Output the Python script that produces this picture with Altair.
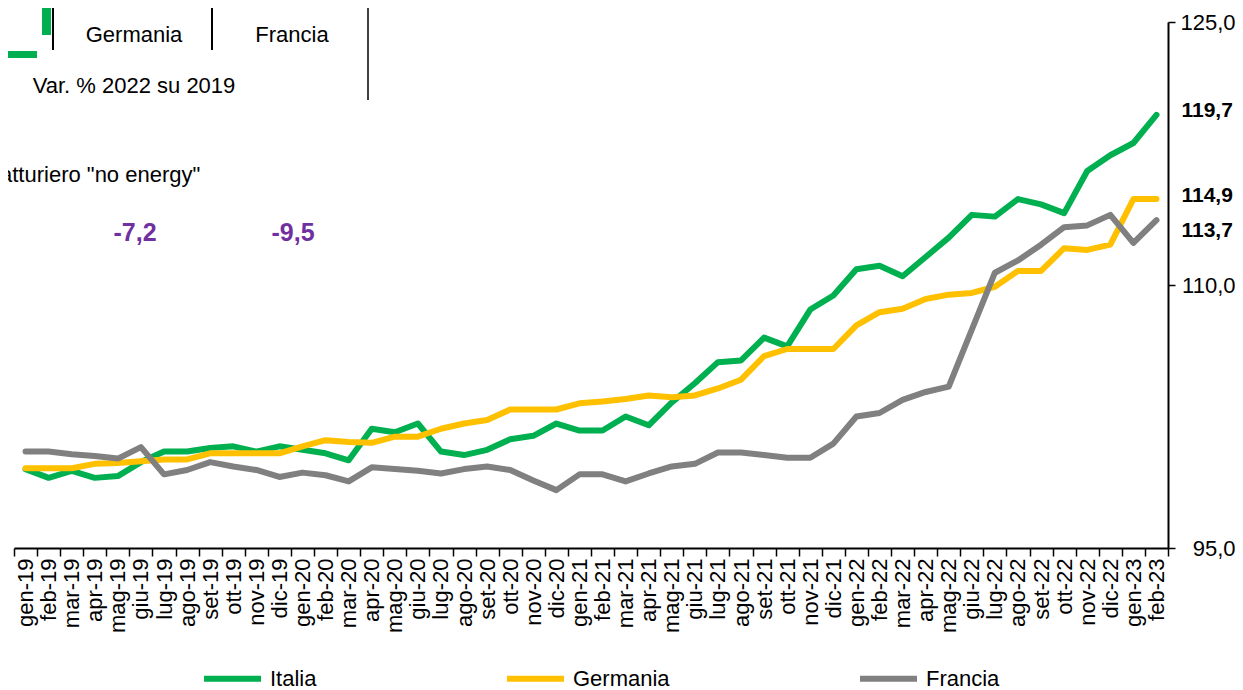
import altair as alt
import pandas as pd

months = [
    "gen-19", "feb-19", "mar-19", "apr-19", "mag-19", "giu-19", "lug-19", "ago-19", "set-19", "ott-19", "nov-19", "dic-19",
    "gen-20", "feb-20", "mar-20", "apr-20", "mag-20", "giu-20", "lug-20", "ago-20", "set-20", "ott-20", "nov-20", "dic-20",
    "gen-21", "feb-21", "mar-21", "apr-21", "mag-21", "giu-21", "lug-21", "ago-21", "set-21", "ott-21", "nov-21", "dic-21",
    "gen-22", "feb-22", "mar-22", "apr-22", "mag-22", "giu-22", "lug-22", "ago-22", "set-22", "ott-22", "nov-22", "dic-22",
    "gen-23", "feb-23",
]

italia = [
    99.5, 99.0, 99.4, 99.0, 99.1, 99.9, 100.5, 100.5, 100.7, 100.8, 100.5, 100.8,
    100.6, 100.4, 100.0, 101.8, 101.6, 102.1, 100.5, 100.3, 100.6, 101.2, 101.4, 102.1,
    101.7, 101.7, 102.5, 102.0, 103.3, 104.4, 105.6, 105.7, 107.0, 106.5, 108.6, 109.4,
    110.9, 111.1, 110.5, 111.6, 112.7, 114.0, 113.9, 114.9, 114.6, 114.1, 116.5, 117.4,
    118.1, 119.7,
]
germania = [
    99.55, 99.55, 99.55, 99.8, 99.85, 99.95, 100.05, 100.05, 100.4, 100.4, 100.4, 100.4,
    100.8, 101.15, 101.05, 101.0, 101.35, 101.35, 101.8, 102.1, 102.3, 102.9, 102.9, 102.9,
    103.25, 103.35, 103.5, 103.7, 103.6, 103.7, 104.1, 104.6, 105.95, 106.35, 106.35, 106.35,
    107.7, 108.45, 108.65, 109.2, 109.45, 109.55, 109.9, 110.8, 110.8, 112.1, 112.0, 112.3,
    114.9, 114.9,
]
francia = [
    100.5, 100.5, 100.35, 100.25, 100.1, 100.75, 99.2, 99.45, 99.9, 99.65, 99.45, 99.05,
    99.3, 99.15, 98.8, 99.6, 99.5, 99.4, 99.25, 99.5, 99.65, 99.45, 98.85, 98.3,
    99.2, 99.2, 98.8, 99.25, 99.65, 99.8, 100.45, 100.45, 100.3, 100.15, 100.15, 100.95,
    102.5, 102.7, 103.45, 103.9, 104.2, 107.45, 110.7, 111.4, 112.3, 113.3, 113.4, 114.0,
    112.4, 113.7,
]

series_names = ["Italia", "Germania", "Francia"]
series_colors = ["#00B050", "#FFC000", "#808080"]
y_ticks = [95, 110, 125]
end_labels = ["119,7", "114,9", "113,7"]
table_headers = ["Germania", "Francia"]
table_subtitle = "Var. % 2022 su 2019"
table_row_label = 'atturiero "no energy"'
table_values = ["-7,2", "-9,5"]

FONT = "Liberation Sans"
W, H = 1154, 526

rows = []
for name, vals in zip(series_names, [italia, germania, francia]):
    for m, v in zip(months, vals):
        rows.append({"mese": m, "serie": name, "valore": v})
df = pd.DataFrame(rows)

x_scale = alt.Scale(type="band", domain=months, paddingInner=0, paddingOuter=0)
y_scale = alt.Scale(domain=[95, 125], nice=False, zero=False)

x_enc = alt.X(
    "mese:N", scale=x_scale, sort=months,
    axis=alt.Axis(
        title=None, labelAngle=-90, labelFontSize=22, labelFont=FONT, labelColor="#000000",
        tickBand="extent", tickSize=8, tickColor="#000000", tickWidth=1.5,
        domainColor="#000000", domainWidth=2, labelPadding=2, labelOverlap=False,
    ),
)
y_enc = alt.Y(
    "valore:Q", scale=y_scale,
    axis=alt.Axis(
        orient="right", values=y_ticks, title=None, grid=False,
        labelExpr="replace(format(datum.value, '.1f'), '.', ',')",
        labelFontSize=22, labelFont=FONT, labelColor="#000000", labelAlign="right",
        labelPadding=60, tickSize=7, tickColor="#000000", tickWidth=1.5,
        domainColor="#000000", domainWidth=2,
    ),
)

lines = alt.Chart(df).mark_line(strokeWidth=6, strokeCap="round", strokeJoin="round").encode(
    x=x_enc,
    y=y_enc,
    color=alt.Color(
        "serie:N",
        scale=alt.Scale(domain=series_names, range=series_colors),
        legend=alt.Legend(
            title=None, orient="none", legendX=187, legendY=625, direction="horizontal",
            symbolType="stroke", symbolSize=3249, symbolStrokeWidth=6,
            labelFontSize=22, labelFont=FONT, labelColor="#000000", labelOffset=6,
            columnPadding=178, padding=0,
        ),
    ),
    order=alt.Order("serie_order:Q"),
).transform_calculate(
    serie_order="indexof(['Italia','Germania','Francia'], datum.serie)"
)

layers = [lines]

# end-of-series value labels (bold), positioned via scales
end_dy = [-4, -3, 11]
for name, vals, lab, dy in zip(series_names, [italia, germania, francia], end_labels, end_dy):
    ldf = pd.DataFrame({"mese": [months[-1]], "valore": [vals[-1]], "lab": [lab]})
    layers.append(
        alt.Chart(ldf).mark_text(
            align="left", baseline="middle", dx=25, dy=dy, fontSize=21, fontWeight="bold",
            font=FONT, color="#000000",
        ).encode(x=alt.X("mese:N", scale=x_scale), y=alt.Y("valore:Q", scale=y_scale), text="lab:N")
    )

one = pd.DataFrame({"k": [0]})

def txt(s, x, y, size=22, bold=False, color="#000000", align="center"):
    return alt.Chart(one).mark_text(
        text=s, align=align, baseline="middle", fontSize=size,
        fontWeight="bold" if bold else "normal", font=FONT, color=color,
    ).encode(x=alt.value(x), y=alt.value(y))

def rule(x1, x2, y1, y2, w=1.5, color="#000000"):
    return alt.Chart(one).mark_rule(strokeWidth=w, color=color).encode(
        x=alt.value(x1), x2=alt.value(x2), y=alt.value(y1), y2=alt.value(y2))

def rect(x1, x2, y1, y2, color):
    return alt.Chart(one).mark_rect(color=color).encode(
        x=alt.value(x1), x2=alt.value(x2), y=alt.value(y1), y2=alt.value(y2))

# partial table overlay in the upper-left corner
layers += [
    rule(39, 39, -21, 28, w=2),
    rule(198, 198, -21, 28, w=2),
    rule(354, 354, -21, 78, w=1.5),
    rect(28, 37, -19, 13, "#00B050"),
    rect(-10, 23, 29, 36, "#00B050"),
    txt(table_headers[0], 120, 13),
    txt(table_headers[1], 278, 13),
    txt(table_subtitle, 120, 64),
    txt(table_row_label, -14, 153, align="left"),
    txt(table_values[0], 121, 211, size=25, bold=True, color="#7030A0"),
    txt(table_values[1], 279, 211, size=25, bold=True, color="#7030A0"),
]

chart = alt.layer(*layers).properties(
    width=W, height=H,
    autosize=alt.AutoSizeParams(type="none"),
    padding={"left": 6, "top": 14, "right": 67, "bottom": 142},
    background="#ffffff",
).configure_view(stroke=None)

chart.save("out.html", embed_options={"renderer": "svg", "actions": False})
